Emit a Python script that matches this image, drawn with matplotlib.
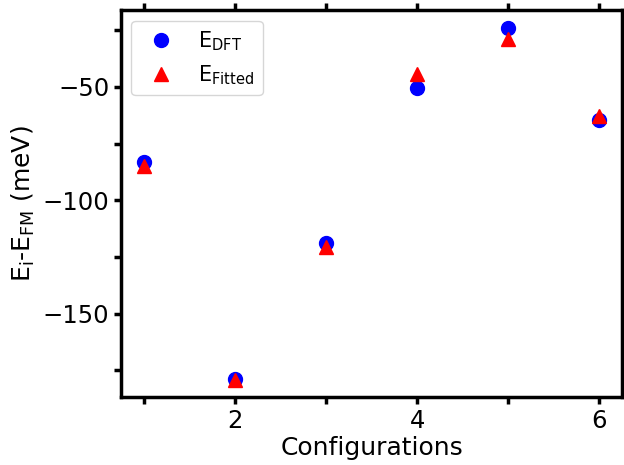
import matplotlib.pyplot as plt
from matplotlib.ticker import MultipleLocator

# configurações e energias (meV)
configs = [1, 2, 3, 4, 5, 6]
e_dft = [-83, -178.6, -119, -50.4, -24, -64.5]
e_fitted = [-85, -179, -120.7, -44.2, -28.9, -62.8]

fig = plt.figure(figsize=(6.24, 4.65), dpi=100)
ax = fig.add_axes([0.194, 0.146, 0.803, 0.832])

ax.plot(configs, e_dft, "o", color="blue", markersize=10, label="E$_{\\mathrm{DFT}}$")
ax.plot(configs, e_fitted, "^", color="red", markersize=10, label="E$_{\\mathrm{Fitted}}$")

ax.xaxis.set_major_locator(MultipleLocator(2))
ax.xaxis.set_minor_locator(MultipleLocator(1))
ax.yaxis.set_major_locator(MultipleLocator(50))
ax.yaxis.set_minor_locator(MultipleLocator(25))
ax.tick_params(which="both", direction="out", length=5, width=2.5, labelsize=17.5,
               top=True, right=False)

for s in ax.spines.values():
    s.set_linewidth(2.5)

ax.set_xlabel("Configurations", fontsize=18, labelpad=2)
ax.set_ylabel("E$_\\mathrm{i}$-E$_\\mathrm{FM}$ (meV)", fontsize=18)
ax.legend(loc="upper left", fontsize=15)

fig.savefig("out.png", dpi=100)
